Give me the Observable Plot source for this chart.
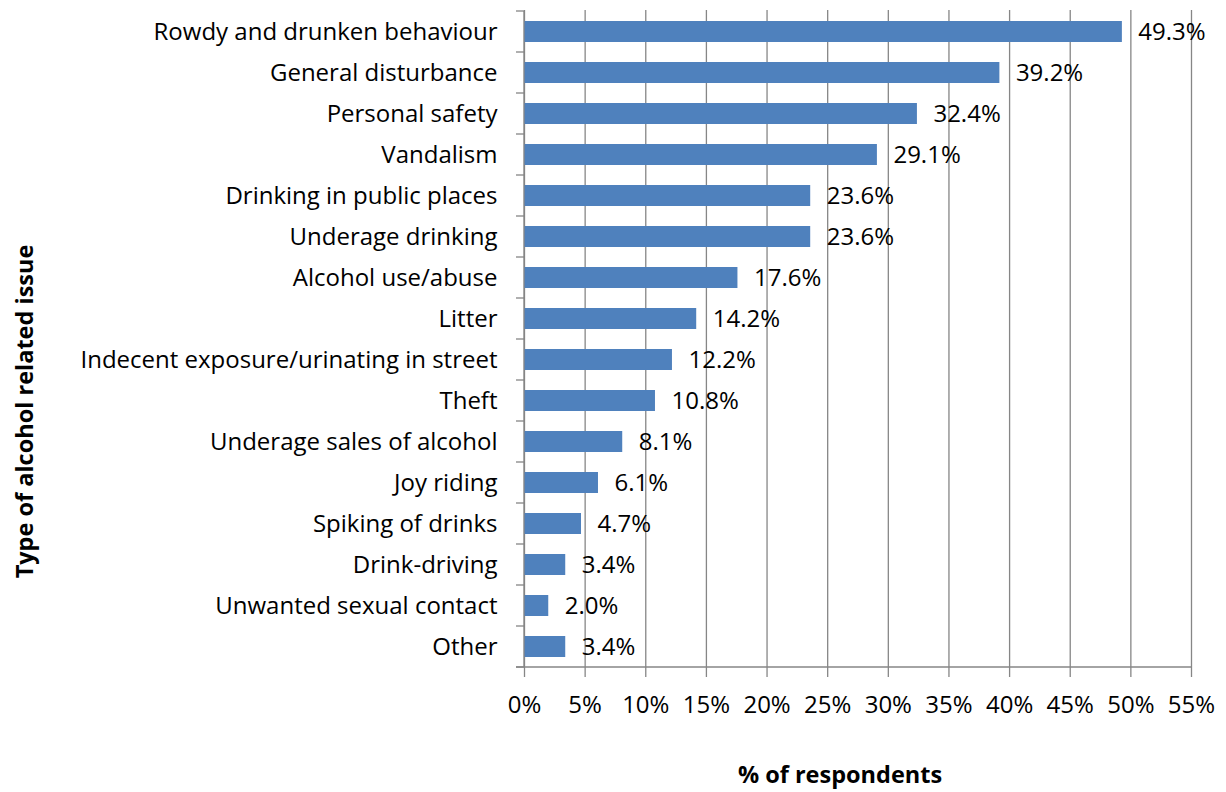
<!DOCTYPE html>
<html>
<head>
<meta charset="utf-8">
<script src="https://cdn.jsdelivr.net/npm/d3@7"></script>
<script src="https://cdn.jsdelivr.net/npm/@observablehq/plot@0.6"></script>
<style>
  body { margin: 0; background: #fff; }
  #chart svg { font-family: "Open Sans", Lato, sans-serif; display: block; }
</style>
</head>
<body>
<div id="chart"></div>
<script>
const categories = [
  "Rowdy and drunken behaviour",
  "General disturbance",
  "Personal safety",
  "Vandalism",
  "Drinking in public places",
  "Underage drinking",
  "Alcohol use/abuse",
  "Litter",
  "Indecent exposure/urinating in street",
  "Theft",
  "Underage sales of alcohol",
  "Joy riding",
  "Spiking of drinks",
  "Drink-driving",
  "Unwanted sexual contact",
  "Other"
];
const values = [49.3, 39.2, 32.4, 29.1, 23.6, 23.6, 17.6, 14.2, 12.2, 10.8, 8.1, 6.1, 4.7, 3.4, 2.0, 3.4];
const xTicks = [0, 5, 10, 15, 20, 25, 30, 35, 40, 45, 50, 55];
const xTitle = "% of respondents";
const yTitle = "Type of alcohol related issue";

const data = categories.map((c, i) => ({issue: c, pct: values[i]}));

const axisColor = "#868686";
const fs = 24;
const fsBold = 23.5;

// y-axis line, category boundary ticks and x-axis baseline, placed from the scales
function axisLines(index, scales, vals, dims) {
  const y = scales.y, x = scales.x;
  const step = y.step(), bw = y.bandwidth();
  const g = d3.create("svg:g").attr("stroke", axisColor).attr("stroke-width", 1.3);
  const x0 = x(0), x1 = x(xTicks[xTicks.length - 1]);
  const bounds = [];
  categories.forEach((c, i) => {
    const center = y(c) + bw / 2;
    if (i === 0) bounds.push(center - step / 2);
    bounds.push(center + step / 2);
  });
  const top = bounds[0], bottom = bounds[bounds.length - 1];
  g.append("line").attr("x1", x0).attr("x2", x0).attr("y1", top).attr("y2", bottom);
  g.append("line").attr("x1", x0 - 8).attr("x2", x1).attr("y1", bottom).attr("y2", bottom);
  for (const b of bounds) {
    g.append("line").attr("x1", x0 - 8).attr("x2", x0).attr("y1", b).attr("y2", b);
  }
  return g.node();
}

const chart = Plot.plot({
  width: 1226,
  height: 792,
  marginLeft: 524,
  marginRight: 35,
  marginTop: 10,
  marginBottom: 124,
  style: {fontSize: fs + "px", color: "#000", background: "#fff"},
  x: {domain: [0, 55]},
  y: {domain: categories, paddingInner: 0.5, paddingOuter: 0.25},
  marks: [
    Plot.gridX({ticks: xTicks, stroke: axisColor, strokeOpacity: 1, strokeWidth: 1.3}),
    Plot.barX(data, {x: "pct", y: "issue", fill: "#4f81bd"}),
    Plot.text(data, {x: "pct", y: "issue", text: d => d.pct.toFixed(1) + "%", textAnchor: "start", dx: 16, fontSize: fs, fill: "#000"}),
    Plot.axisX({ticks: xTicks, tickFormat: d => d + "%", tickSize: 9, tickPadding: 18, stroke: axisColor, strokeWidth: 1.3, fontSize: fs, label: null}),
    Plot.axisY({tickSize: 0, tickPadding: 27, fontSize: fs, label: null}),
    axisLines,
    Plot.text([xTitle], {frameAnchor: "bottom", textAnchor: "middle", lineAnchor: "middle", dy: 107, dx: -18, fontSize: fsBold, fontWeight: "bold", fill: "#000"}),
    Plot.text([yTitle], {frameAnchor: "left", textAnchor: "middle", lineAnchor: "middle", rotate: -90, dx: -499, dy: 72, fontSize: fsBold, fontWeight: "bold", fill: "#000"})
  ]
});
document.getElementById("chart").append(chart);
</script>
</body>
</html>
